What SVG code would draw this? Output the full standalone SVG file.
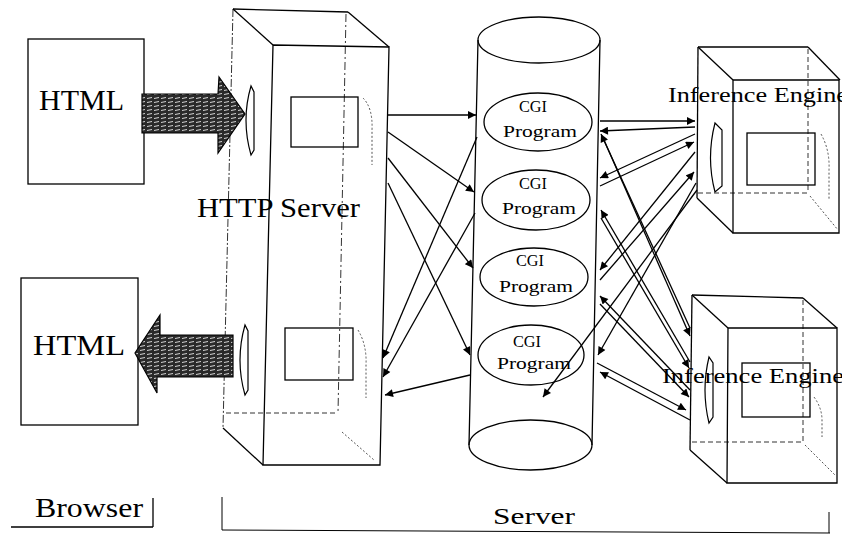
<svg xmlns="http://www.w3.org/2000/svg" width="842" height="542" viewBox="0 0 842 542">
<style>
.edge{fill:none;stroke:#000;stroke-width:1.3}
.hid{fill:none;stroke:#333;stroke-width:1;stroke-dasharray:5 3}
.dot{fill:none;stroke:#555;stroke-width:1;stroke-dasharray:2 2}
.box{fill:#fff;stroke:#000;stroke-width:1.3}
.lens{fill:#fff;stroke:#000;stroke-width:1.2}
.lbl{font-family:"Liberation Serif","Times New Roman",serif;fill:#000}
.con{fill:none;stroke:#000;stroke-width:1.3;marker-end:url(#ah)}
.fat{fill:url(#hatch);stroke:#000;stroke-width:1.2}
</style>
<defs>
<marker id="ah" viewBox="0 0 10 10" refX="10" refY="5" markerWidth="9" markerHeight="8" markerUnits="userSpaceOnUse" orient="auto">
<path d="M0,0 L10,5 L0,10 Z" fill="#000"/>
</marker>
<pattern id="hatch" width="7" height="4" patternUnits="userSpaceOnUse">
<rect width="7" height="4" fill="#2a2a2a"/>
<path d="M0,2.5 L5,1.5" stroke="#fff" stroke-width="0.8"/>
</pattern>
</defs>
<rect width="842" height="542" fill="#fff"/>

<g id="html-top">
<rect x="28" y="39" width="116" height="145" class="box"/>
<text x="39" y="110" class="lbl" font-size="30">HTML</text>
</g>
<g id="html-bottom">
<rect x="21" y="278" width="117" height="147" class="box"/>
<text x="33" y="355" class="lbl" font-size="30" textLength="92" lengthAdjust="spacingAndGlyphs">HTML</text>
</g>

<g id="http-server">
<path d="M233,9 L223,428" class="hid" style="stroke-dasharray:8 2 2 2"/>
<path d="M233,9 L348,12" class="edge"/>
<path d="M233,9 L273,45" class="edge"/>
<path d="M348,12 L389,47" class="edge"/>
<path d="M346,14 L338,413" class="hid" style="stroke-dasharray:8 3 2 3"/>
<path d="M226,413 L338,413" class="hid"/>
<path d="M223,428 L263,465" class="edge"/>
<path d="M342,432 L374,460" class="dot"/>
<path d="M273,45 L389,47 L380,465 L263,465 Z" class="edge"/>
<rect x="291" y="97" width="67" height="50" class="edge"/>
<path d="M363,98 Q373,108 372,130 L372,165" class="dot"/>
<rect x="285" y="328" width="68" height="52" class="edge"/>
<path d="M358,330 Q367,345 366,365 L366,398" class="dot"/>
<path d="M251,86 Q241,120 251,155 L254,150 L254,92 Z" class="lens"/>
<path d="M245,325 Q235,360 245,395 L248,390 L248,331 Z" class="lens"/>
<text x="197" y="217" class="lbl" font-size="27" textLength="163" lengthAdjust="spacingAndGlyphs">HTTP Server</text>
</g>

<g id="cylinder">
<path d="M478,40 L469,445 M600,40 L592,445" class="edge"/>
<ellipse cx="539" cy="40" rx="61" ry="23" class="edge"/>
<ellipse cx="530.5" cy="445" rx="61.5" ry="25" class="edge"/>
</g>
<g id="cgi-1">
<ellipse cx="538" cy="122" rx="54" ry="29" class="edge"/>
<text x="519" y="112" class="lbl" font-size="17" textLength="28" lengthAdjust="spacingAndGlyphs">CGI</text>
<text x="503" y="137" class="lbl" font-size="17" textLength="74" lengthAdjust="spacingAndGlyphs">Program</text>
</g>
<g id="cgi-2">
<ellipse cx="536" cy="200" rx="54" ry="30" class="edge"/>
<text x="519" y="189" class="lbl" font-size="17" textLength="28" lengthAdjust="spacingAndGlyphs">CGI</text>
<text x="502" y="214" class="lbl" font-size="17" textLength="74" lengthAdjust="spacingAndGlyphs">Program</text>
</g>
<g id="cgi-3">
<ellipse cx="534" cy="277" rx="54" ry="29" class="edge"/>
<text x="516" y="266" class="lbl" font-size="17" textLength="28" lengthAdjust="spacingAndGlyphs">CGI</text>
<text x="499" y="292" class="lbl" font-size="17" textLength="74" lengthAdjust="spacingAndGlyphs">Program</text>
</g>
<g id="cgi-4">
<ellipse cx="531" cy="355" rx="53" ry="30" class="edge"/>
<text x="513" y="347" class="lbl" font-size="17" textLength="28" lengthAdjust="spacingAndGlyphs">CGI</text>
<text x="497" y="369" class="lbl" font-size="17" textLength="74" lengthAdjust="spacingAndGlyphs">Program</text>
</g>

<g id="inference-engine-1">
<path d="M698,47 L697,198" class="edge"/>
<path d="M698,47 L808,47" class="edge"/>
<path d="M698,47 L733,80" class="edge"/>
<path d="M808,47 L840,80" class="edge"/>
<path d="M808,49 L808,193" class="hid"/>
<path d="M698,193 L808,193" class="hid"/>
<path d="M697,198 L733,233" class="edge"/>
<path d="M810,196 L838,230" class="dot"/>
<path d="M733,80 L839,80 L839,233 L733,233 Z" class="edge"/>
<rect x="747" y="133" width="68" height="52" class="edge"/>
<path d="M821,134 Q830,150 829,170 L829,200" class="dot"/>
<path d="M715,123 Q706,158 715,192 L722,186 L722,130 Z" class="lens"/>
<text x="668" y="102" class="lbl" font-size="22" textLength="180" lengthAdjust="spacingAndGlyphs">Inference Engine</text>
</g>
<g id="inference-engine-2">
<path d="M692,295 L690,450" class="edge"/>
<path d="M692,295 L803,298" class="edge"/>
<path d="M692,295 L728,328" class="edge"/>
<path d="M803,298 L837,328" class="edge"/>
<path d="M803,300 L803,442" class="hid"/>
<path d="M692,442 L803,442" class="hid"/>
<path d="M690,450 L727,483" class="edge"/>
<path d="M805,445 L835,475" class="dot"/>
<path d="M728,328 L837,328 L837,483 L727,483 Z" class="edge"/>
<rect x="742" y="363" width="68" height="54" class="edge"/>
<path d="M814,397 Q822,408 822,420 L822,437" class="dot"/>
<path d="M709,357 Q701,390 709,423 L713,417 L713,363 Z" class="lens"/>
<text x="662" y="383" class="lbl" font-size="22" textLength="182" lengthAdjust="spacingAndGlyphs">Inference Engine</text>
</g>

<g id="fat-arrows">
<path d="M142,94 L218,94 L219,77 L245,114 L218,153 L218,133 L142,133 Z" class="fat"/>
<path d="M233,335 L160,335 L160,315 L135,353 L157,393 L157,377 L233,377 Z" class="fat"/>
</g>

<g id="connectors">
<path d="M388,115 L476,115" class="con"/>
<path d="M388,132 L474,192" class="con"/>
<path d="M388,158 L473,268" class="con"/>
<path d="M388,183 L470,355" class="con"/>
<path d="M477,137 L383,358" class="con"/>
<path d="M475,213 L383,377" class="con"/>
<path d="M470,375 L385,395" class="con"/>

<path d="M600,121 L695,121" class="con"/>
<path d="M695,127 L600,131" class="con"/>
<path d="M695,134 L600,178" class="con"/>
<path d="M600,186 L694,142" class="con"/>
<path d="M695,152 L600,270" class="con"/>
<path d="M600,280 L694,172" class="con"/>
<path d="M696,183 L598,355" class="con"/>
<path d="M697,190 L543,397" class="con"/>
<path d="M690,328 L601,134" class="con"/>
<path d="M604,140 L690,336" class="con"/>
<path d="M690,362 L601,210" class="con"/>
<path d="M601,218 L689,368" class="con"/>
<path d="M690,390 L600,296" class="con"/>
<path d="M600,304 L689,397" class="con"/>
<path d="M597,363 L686,410" class="con"/>
<path d="M690,420 L600,372" class="con"/>
</g>

<g id="browser-label">
<path d="M11,527 L153,527 M153,498 L153,527" class="edge"/>
<text x="35" y="517" class="lbl" font-size="27" textLength="108" lengthAdjust="spacingAndGlyphs">Browser</text>
</g>
<g id="server-label">
<path d="M222,497 L222,530 L830,533 M829,512 L829,533" class="edge" style="stroke-width:1"/>
<text x="493" y="524" class="lbl" font-size="24" textLength="82" lengthAdjust="spacingAndGlyphs">Server</text>
</g>
</svg>
